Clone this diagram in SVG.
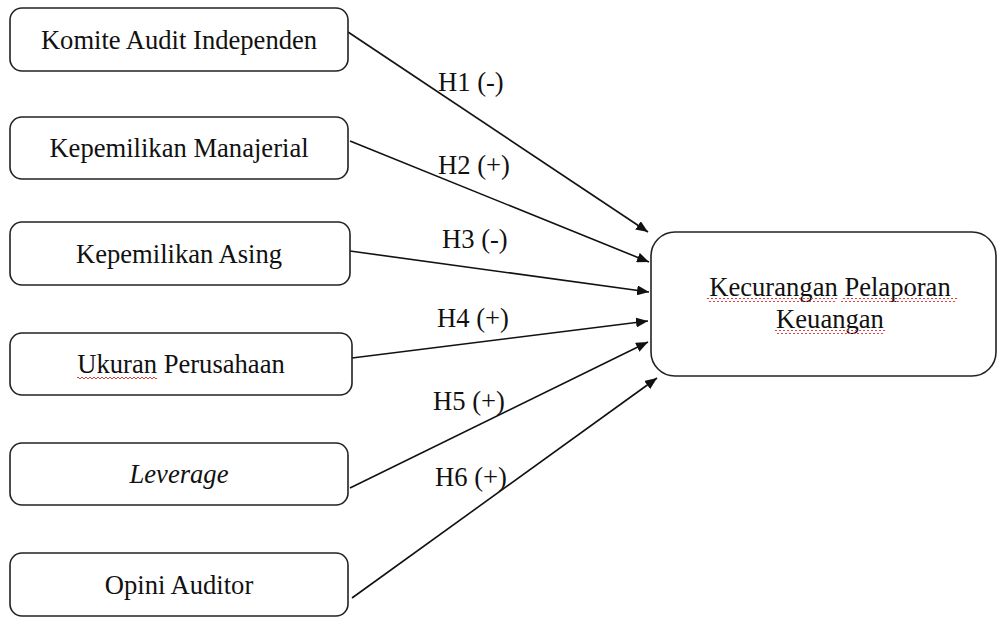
<svg xmlns="http://www.w3.org/2000/svg" width="998" height="618" viewBox="0 0 998 618">
<style>
.box{fill:#fff;stroke:#222;stroke-width:1.6}
.t{font-family:"Liberation Serif","Times New Roman",serif;font-size:26.6px;fill:#111;text-anchor:middle}
.lbl{font-family:"Liberation Serif","Times New Roman",serif;font-size:26.6px;fill:#111}
.c{stroke:#111;stroke-width:1.6;fill:none;marker-end:url(#ah)}
</style>
<defs>
<marker id="ah" viewBox="0 0 12 10" refX="12" refY="5" markerWidth="12" markerHeight="10" markerUnits="userSpaceOnUse" orient="auto">
<path d="M0,0 L12,5 L0,10 Z" fill="#111"/>
</marker>
<pattern id="sq" width="4" height="4" patternUnits="userSpaceOnUse">
<path d="M0,3 L2,1 L4,3" fill="none" stroke="#e04040" stroke-width="1"/>
</pattern>
</defs>
<rect width="998" height="618" fill="#fff"/>
<g id="connectors">
<line class="c" x1="348" y1="32" x2="648" y2="232"/>
<line class="c" x1="350" y1="141" x2="649" y2="262"/>
<line class="c" x1="350" y1="251" x2="649" y2="292"/>
<line class="c" x1="352" y1="358" x2="648" y2="321"/>
<line class="c" x1="350" y1="488" x2="648" y2="342"/>
<line class="c" x1="352" y1="598" x2="657" y2="378"/>
<text class="lbl" x="438" y="91">H1 (-)</text>
<text class="lbl" x="438" y="174">H2 (+)</text>
<text class="lbl" x="442" y="248">H3 (-)</text>
<text class="lbl" x="437" y="327">H4 (+)</text>
<text class="lbl" x="433" y="410">H5 (+)</text>
<text class="lbl" x="435" y="486">H6 (+)</text>
</g>
<g id="n1"><rect class="box" x="10" y="8" width="338" height="63" rx="12"/><text class="t" x="179" y="49">Komite Audit Independen</text></g>
<g id="n2"><rect class="box" x="10" y="117" width="338" height="62" rx="12"/><text class="t" x="179" y="157">Kepemilikan Manajerial</text></g>
<g id="n3"><rect class="box" x="10" y="222" width="340" height="63" rx="12"/><text class="t" x="179" y="263">Kepemilikan Asing</text></g>
<g id="n4"><rect class="box" x="10" y="333" width="342" height="62" rx="12"/><text class="t" x="181" y="373">Ukuran Perusahaan</text><rect x="77" y="375" width="80" height="4" fill="url(#sq)"/></g>
<g id="n5"><rect class="box" x="10" y="443" width="338" height="62" rx="12"/><text class="t" x="179" y="483" font-style="italic">Leverage</text></g>
<g id="n6"><rect class="box" x="10" y="553" width="338" height="63" rx="12"/><text class="t" x="179" y="594">Opini Auditor</text></g>
<g id="target"><rect class="box" x="651" y="232" width="345" height="144" rx="24"/>
<text class="t" x="830" y="296">Kecurangan Pelaporan</text>
<text class="t" x="830" y="328">Keuangan</text>
<rect x="707" y="298" width="130" height="4" fill="url(#sq)"/>
<rect x="841" y="298" width="116" height="4" fill="url(#sq)"/>
<rect x="775" y="330" width="110" height="4" fill="url(#sq)"/>
</g>
</svg>
